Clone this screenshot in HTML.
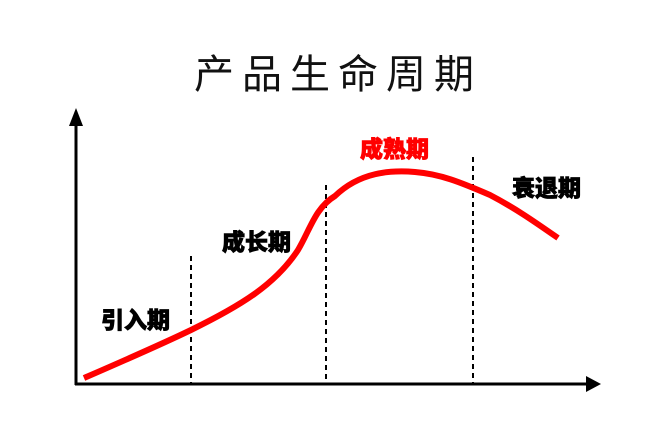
<!DOCTYPE html>
<html><head><meta charset="utf-8"><style>
body{margin:0;background:#fff;}
</style></head><body>
<svg width="650" height="425" xmlns="http://www.w3.org/2000/svg">
<rect width="650" height="425" fill="#fff"/>
<text x="338" y="88" text-anchor="middle" font-family="Noto Sans CJK SC, sans-serif" font-size="40" letter-spacing="8" fill="#111">产品生命周期</text>
<line x1="76" y1="120" x2="76" y2="385" stroke="#000" stroke-width="3"/>
<polygon points="76,108 69,126 83,126" fill="#000"/>
<line x1="75" y1="384" x2="588" y2="384" stroke="#000" stroke-width="3"/>
<polygon points="601,384 586,376 586,392" fill="#000"/>
<g stroke="#000" stroke-width="2" stroke-dasharray="5,4">
<line x1="191" y1="256" x2="191" y2="384"/>
<line x1="326" y1="185" x2="326" y2="384"/>
<line x1="473" y1="157" x2="473" y2="384"/>
</g>
<path d="M84,378 C130,358 160,345 191,330 C240,306 275,285 298,250 C310,230 315,208 335,196 C360,172 390,170 415,172 C440,174 460,182 490,195 C515,208 535,222 558,238" fill="none" stroke="#f00" stroke-width="6"/>
<g font-family="Noto Sans CJK SC, sans-serif" font-weight="900" font-size="23" stroke-width="0.8">
<text x="101" y="328" fill="#000" stroke="#000">引入期</text>
<text x="222" y="250" fill="#000" stroke="#000">成长期</text>
<text x="360" y="157" fill="#f00" stroke="#f00">成熟期</text>
<text x="512" y="196" fill="#000" stroke="#000">衰退期</text>
</g>
</svg>
</body></html>
